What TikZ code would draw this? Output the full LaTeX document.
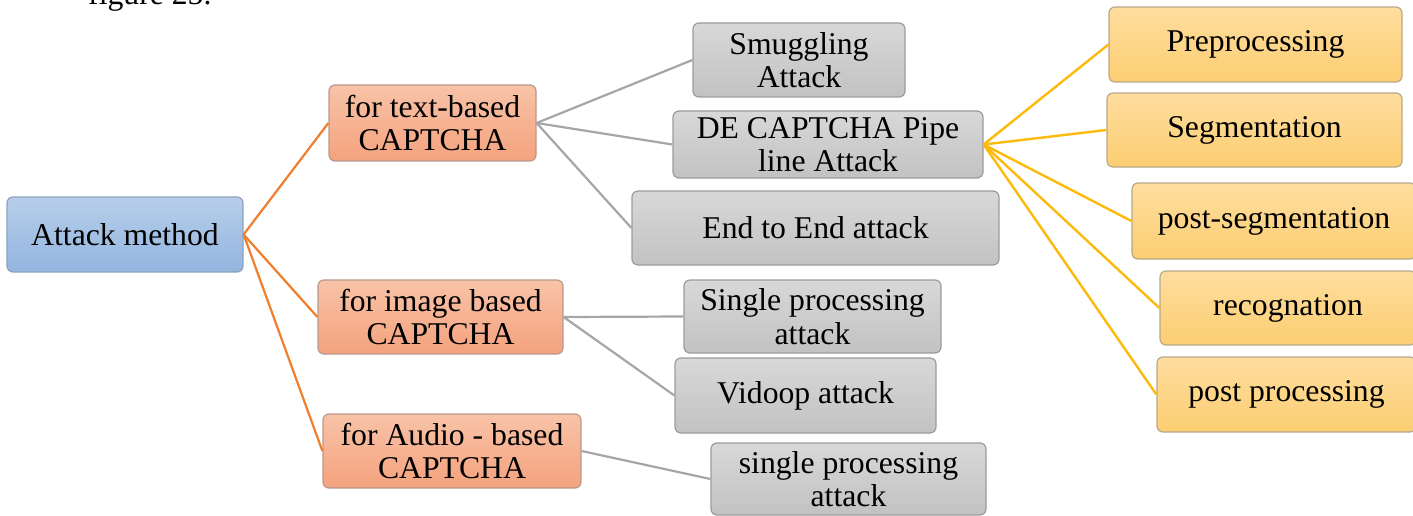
\documentclass[tikz,border=0pt]{standalone}
\usepackage{fontspec}
\setmainfont{Liberation Serif}
\definecolor{blueT}{HTML}{B6CEEA}
\definecolor{blueB}{HTML}{93B5DF}
\definecolor{blueD}{HTML}{8DA2BC}
\definecolor{orT}{HTML}{F8C3A8}
\definecolor{orB}{HTML}{F4A27D}
\definecolor{orD}{HTML}{B89A8C}
\definecolor{grT}{HTML}{D8D8D8}
\definecolor{grB}{HTML}{C2C2C2}
\definecolor{grD}{HTML}{9C9C9C}
\definecolor{yeT}{HTML}{FEDD9E}
\definecolor{yeB}{HTML}{FCCE72}
\definecolor{yeD}{HTML}{B8A888}
\definecolor{orLine}{HTML}{F07E2C}
\definecolor{grLine}{HTML}{A6A6A6}
\definecolor{yeLine}{HTML}{FDBA0A}
\tikzset{
  box/.style={rectangle, rounded corners=6pt, line width=1.2pt, inner sep=0pt, align=center,
    font=\fontsize{31.7}{33.5}\selectfont},
  bluebox/.style={box, draw=blueD, top color=blueT, bottom color=blueB},
  orbox/.style={box, draw=orD, top color=orT, bottom color=orB},
  grbox/.style={box, draw=grD, top color=grT, bottom color=grB},
  yebox/.style={box, draw=yeD, top color=yeT, bottom color=yeB},
  orl/.style={draw=orLine, line width=2.2pt},
  grl/.style={draw=grLine, line width=2.2pt},
  yel/.style={draw=yeLine, line width=2.4pt},
}
\begin{document}
\begin{tikzpicture}[x=1pt,y=-1pt]
\useasboundingbox (0,0) rectangle (1413,516);
\clip (0,0) rectangle (1413,516);
\node[anchor=base west, inner sep=0pt, font=\fontsize{31.7}{33.5}\selectfont] (fig) at (88,5) {figure 25.};
% nodes
\node[bluebox, minimum width=236pt, minimum height=75pt] (am) at (125,234.5) {Attack method};
\node[orbox, minimum width=207pt, minimum height=76pt] (tb) at (432.5,123) {for text-based\\CAPTCHA};
\node[orbox, minimum width=245pt, minimum height=74pt] (ib) at (440.5,317) {for image based\\CAPTCHA};
\node[orbox, minimum width=258pt, minimum height=74pt] (ab) at (452,451) {for Audio - based\\CAPTCHA};
\node[grbox, minimum width=212pt, minimum height=74pt] (sm) at (799,60) {Smuggling\\Attack};
\node[grbox, minimum width=310pt, minimum height=67pt] (de) at (828,144.5) {DE CAPTCHA Pipe\\line Attack};
\node[grbox, minimum width=367pt, minimum height=74pt] (ee) at (815.5,228) {End to End attack};
\node[grbox, minimum width=257pt, minimum height=73pt] (sp) at (812.5,316.5) {Single processing\\attack};
\node[grbox, minimum width=261pt, minimum height=75pt] (vi) at (805.5,395.5) {Vidoop attack};
\node[grbox, minimum width=275pt, minimum height=72pt] (sa) at (848.5,479) {single processing\\attack};
\node[yebox, minimum width=293pt, minimum height=75pt] (pp) at (1255.5,44.5) {Preprocessing};
\node[yebox, minimum width=295pt, minimum height=74pt] (sg) at (1254.5,130) {Segmentation};
\node[yebox, minimum width=284pt, minimum height=76pt] (ps) at (1274,221) {post-segmentation};
\node[yebox, minimum width=256pt, minimum height=74pt] (rc) at (1288,308) {recognation};
\node[yebox, minimum width=259pt, minimum height=75pt] (po) at (1286.5,394.5) {post processing};
% connectors
\draw[orl] (am.east) -- (tb.west);
\draw[orl] (am.east) -- (ib.west);
\draw[orl] (am.east) -- (ab.west);
\draw[grl] (tb.east) -- (sm.west);
\draw[grl] (tb.east) -- (de.west);
\draw[grl] (tb.east) -- (ee.west);
\draw[grl] (ib.east) -- (sp.west);
\draw[grl] (ib.east) -- (vi.west);
\draw[grl] (ab.east) -- (sa.west);
\draw[yel] (de.east) -- (pp.west);
\draw[yel] (de.east) -- (sg.west);
\draw[yel] (de.east) -- (ps.west);
\draw[yel] (de.east) -- (rc.west);
\draw[yel] (de.east) -- (po.west);
\end{tikzpicture}
\end{document}
